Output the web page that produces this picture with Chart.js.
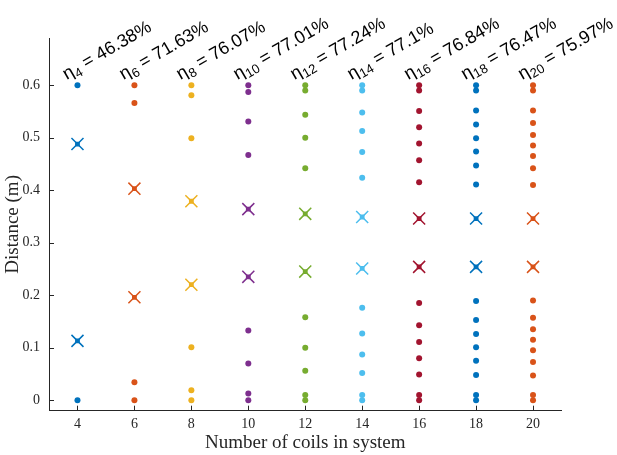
<!DOCTYPE html>
<html>
<head>
<meta charset="utf-8">
<script src="https://cdn.jsdelivr.net/npm/chart.js@4/dist/chart.umd.min.js"></script>
<style>
  html, body { margin: 0; padding: 0; background: #fff; }
  #wrap { width: 617px; height: 455px; }
</style>
</head>
<body>
<div id="wrap"><canvas id="c" width="617" height="455"></canvas></div>
<script>
// Number of coils in each system (x positions)
const coilCounts = [4, 6, 8, 10, 12, 14, 16, 18, 20];

// Transfer efficiency for each system (%)
const efficiency = [46.38, 71.63, 76.07, 77.01, 77.24, 77.1, 76.84, 76.47, 75.97];

// Coil positions along the line (m), one list per system
const coils4  = [0, 0.6];
const coils6  = [0, 0.034, 0.566, 0.6];
const coils8  = [0, 0.019, 0.101, 0.499, 0.581, 0.6];
const coils10 = [0, 0.013, 0.070, 0.133, 0.467, 0.531, 0.587, 0.6];
const coils12 = [0, 0.010, 0.056, 0.100, 0.158, 0.442, 0.500, 0.544, 0.590, 0.6];
const coils14 = [0, 0.010, 0.052, 0.087, 0.127, 0.176, 0.424, 0.473, 0.513, 0.548, 0.590, 0.6];
const coils16 = [0, 0.010, 0.049, 0.080, 0.111, 0.143, 0.185, 0.415, 0.457, 0.489, 0.520, 0.551, 0.590, 0.6];
const coils18 = [0, 0.010, 0.048, 0.075, 0.101, 0.126, 0.153, 0.189, 0.411, 0.447, 0.474, 0.499, 0.525, 0.552, 0.590, 0.6];
const coils20 = [0, 0.010, 0.047, 0.073, 0.095, 0.115, 0.135, 0.157, 0.190, 0.410, 0.442, 0.465, 0.485, 0.505, 0.528, 0.552, 0.590, 0.6];

// Optimised load-coil positions (m), marked with crosses
const loads4  = [0.113, 0.488];
const loads6  = [0.196, 0.403];
const loads8  = [0.220, 0.379];
const loads10 = [0.235, 0.364];
const loads12 = [0.245, 0.355];
const loads14 = [0.251, 0.349];
const loads16 = [0.254, 0.346];
const loads18 = [0.254, 0.346];
const loads20 = [0.254, 0.346];

const coilLists = [coils4, coils6, coils8, coils10, coils12, coils14, coils16, coils18, coils20];
const loadLists = [loads4, loads6, loads8, loads10, loads12, loads14, loads16, loads18, loads20];

// Axis ticks
const xTicks = [4, 6, 8, 10, 12, 14, 16, 18, 20];
const yTicks = [0, 0.1, 0.2, 0.3, 0.4, 0.5, 0.6];

const palette = ['#0072BD', '#D95319', '#EDB120', '#7E2F8E', '#77AC30', '#4DBEEE', '#A2142F', '#0072BD', '#D95319'];
const ink = '#262626';
const serif = '"Liberation Serif", "Times New Roman", serif';

const datasets = [];
coilCounts.forEach((n, i) => {
  const col = palette[i];
  datasets.push({
    label: 'coils ' + n,
    data: coilLists[i].map(v => ({ x: n, y: v })),
    pointStyle: 'circle', pointRadius: 3, pointHoverRadius: 3,
    backgroundColor: col, borderColor: col, borderWidth: 0
  });
  datasets.push({
    label: 'load ' + n,
    data: loadLists[i].map(v => ({ x: n, y: v })),
    pointStyle: 'crossRot', pointRadius: 8.5, pointHoverRadius: 8.5,
    backgroundColor: col, borderColor: col, borderWidth: 1.5
  });
  datasets.push({
    label: 'load centre ' + n,
    data: loadLists[i].map(v => ({ x: n, y: v })),
    pointStyle: 'rect', pointRadius: 3.4, pointHoverRadius: 3.4,
    backgroundColor: col, borderColor: col, borderWidth: 0
  });
});

// Inward tick marks on both axes
const innerTicks = {
  id: 'innerTicks',
  afterDraw(chart) {
    const { ctx, scales: { x, y }, chartArea } = chart;
    ctx.save();
    ctx.strokeStyle = ink;
    ctx.lineWidth = 1;
    ctx.beginPath();
    yTicks.forEach(v => {
      const py = Math.round(y.getPixelForValue(v)) + 0.5;
      ctx.moveTo(chartArea.left, py);
      ctx.lineTo(chartArea.left + 5, py);
    });
    xTicks.forEach(v => {
      const px = Math.round(x.getPixelForValue(v)) + 0.5;
      ctx.moveTo(px, chartArea.bottom);
      ctx.lineTo(px, chartArea.bottom - 5);
    });
    ctx.stroke();
    ctx.restore();
  }
};

// Rotated efficiency labels above each column
const etaLabels = {
  id: 'etaLabels',
  afterDraw(chart) {
    const { ctx, scales: { x, y } } = chart;
    ctx.save();
    ctx.fillStyle = '#000';
    ctx.textBaseline = 'alphabetic';
    ctx.textAlign = 'left';
    coilCounts.forEach((n, i) => {
      const px = x.getPixelForValue(n - 0.38);
      const py = y.getPixelForValue(0.61);
      ctx.save();
      ctx.translate(px, py);
      ctx.rotate(-30 * Math.PI / 180);
      let cx = 0;
      ctx.font = '18px "Liberation Sans", Arial, sans-serif';
      ctx.fillText('\u03B7', cx, 0);
      cx += ctx.measureText('\u03B7').width + 0.5;
      ctx.font = '13px "Liberation Sans", Arial, sans-serif';
      ctx.fillText(String(n), cx, 4);
      cx += ctx.measureText(String(n)).width;
      ctx.font = '18px "Liberation Sans", Arial, sans-serif';
      ctx.fillText(' = ' + efficiency[i] + '%', cx, 0);
      ctx.restore();
    });
    ctx.restore();
  }
};

new Chart(document.getElementById('c'), {
  type: 'scatter',
  data: { datasets },
  options: {
    responsive: false,
    devicePixelRatio: 1,
    animation: false,
    layout: { padding: { left: 0, top: 38, right: 55.5, bottom: 0 } },
    plugins: { legend: { display: false }, tooltip: { enabled: false } },
    scales: {
      x: {
        type: 'linear', min: 3, max: 21,
        afterBuildTicks: s => { s.ticks = xTicks.map(v => ({ value: v })); },
        afterFit: s => { s.height = 44.3; },
        grid: { display: false, drawTicks: false },
        border: { display: true, color: ink, width: 1 },
        ticks: { color: ink, padding: 5, font: { family: serif, size: 14 } },
        title: { display: true, text: 'Number of coils in system', color: ink, padding: { top: 0, bottom: 1 },
                 font: { family: serif, size: 19 } }
      },
      y: {
        type: 'linear', min: -0.02, max: 0.69,
        afterBuildTicks: s => { s.ticks = yTicks.map(v => ({ value: v })); },
        afterFit: s => { s.width = 49; },
        grid: { display: false, drawTicks: false },
        border: { display: true, color: ink, width: 1 },
        ticks: { color: ink, padding: 9, callback: v => String(v),
                 font: { family: serif, size: 14 } },
        title: { display: true, text: 'Distance (m)', color: ink, padding: { top: 2, bottom: 0 },
                 font: { family: serif, size: 19 } }
      }
    }
  },
  plugins: [innerTicks, etaLabels]
});
</script>
</body>
</html>
